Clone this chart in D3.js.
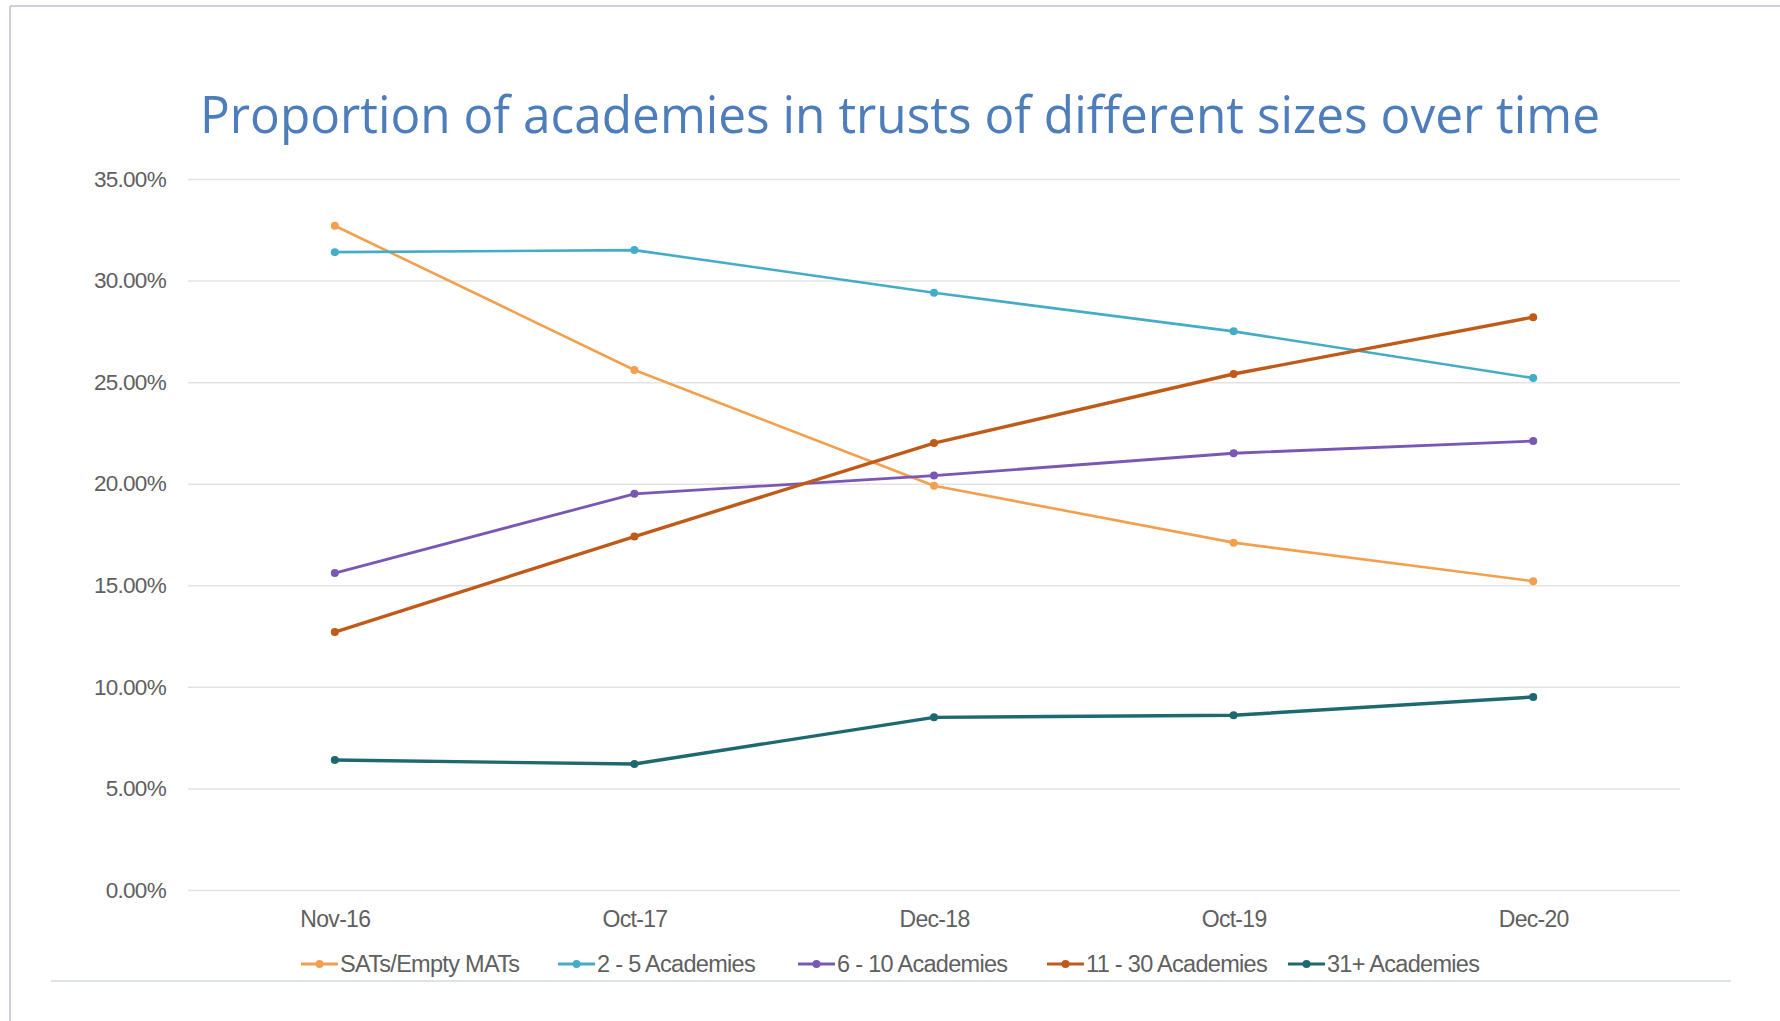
<!DOCTYPE html>
<html>
<head>
<meta charset="utf-8">
<script src="https://cdn.jsdelivr.net/npm/d3@7"></script>
<style>
  html, body { margin: 0; padding: 0; background: #ffffff; }
  svg { display: block; }
</style>
</head>
<body>
<svg id="chart" width="1780" height="1021"></svg>
<script>
// ---- data ----
const categories = ["Nov-16", "Oct-17", "Dec-18", "Oct-19", "Dec-20"];
const seriesNames = ["SATs/Empty MATs", "2 - 5 Academies", "6 - 10 Academies", "11 - 30 Academies", "31+ Academies"];
const satsValues    = [32.7, 25.6, 19.9, 17.1, 15.2];
const twoFiveValues = [31.4, 31.5, 29.4, 27.5, 25.2];
const sixTenValues  = [15.6, 19.5, 20.4, 21.5, 22.1];
const elevenThirtyValues = [12.7, 17.4, 22.0, 25.4, 28.2];
const thirtyOnePlusValues = [6.4, 6.2, 8.5, 8.6, 9.5];
const yTicks = [0, 5, 10, 15, 20, 25, 30, 35];
const titleText = "Proportion of academies in trusts of different sizes over time";

const seriesValues = [satsValues, twoFiveValues, sixTenValues, elevenThirtyValues, thirtyOnePlusValues];
const colors = ["#f2a04e", "#45acc8", "#7858b4", "#c05a18", "#1e6870"];
const widths = [2.6, 2.6, 2.8, 3.4, 3.4];

const svg = d3.select("#chart");

// frame lines
svg.append("line").attr("x1", 10).attr("x2", 1780).attr("y1", 6).attr("y2", 6)
  .attr("stroke", "#c9d2dc").attr("stroke-width", 2);
svg.append("line").attr("x1", 10).attr("x2", 10).attr("y1", 6).attr("y2", 1021)
  .attr("stroke", "#c9d2dc").attr("stroke-width", 2);
svg.append("line").attr("x1", 51).attr("x2", 1731).attr("y1", 981).attr("y2", 981)
  .attr("stroke", "#d4d8dc").attr("stroke-width", 1.5);

// title
svg.append("text")
  .attr("x", 900).attr("y", 133)
  .attr("text-anchor", "middle")
  .attr("font-family", "'Open Sans', 'Noto Sans', sans-serif")
  .attr("font-size", 52)
  .attr("fill", "#4d7dbb")
  .attr("textLength", 1400)
  .attr("lengthAdjust", "spacingAndGlyphs")
  .text(titleText);

// scales
const x = d3.scalePoint().domain(categories).range([185, 1683]).padding(0.5);
const y = d3.scaleLinear().domain([0, 35]).range([890, 179]);

const labelFont = "'Liberation Sans', Arial, sans-serif";

// gridlines
const gAxisY = svg.append("g").attr("transform", "translate(188,0)")
  .call(d3.axisLeft(y).tickValues(yTicks).tickSize(-1492).tickFormat(d => d3.format(".2f")(d) + "%").tickPadding(22));
gAxisY.select(".domain").remove();
gAxisY.selectAll(".tick line").attr("stroke", "#e3e3e3").attr("stroke-width", 1.5);
gAxisY.selectAll(".tick text")
  .attr("font-family", labelFont)
  .attr("font-size", 22.5)
  .attr("letter-spacing", -0.7)
  .attr("fill", "#606060");

// x axis labels
const gAxisX = svg.append("g").attr("transform", "translate(0,890)")
  .call(d3.axisBottom(x).tickSize(0).tickPadding(21));
gAxisX.select(".domain").remove();
gAxisX.selectAll(".tick text")
  .attr("font-family", labelFont)
  .attr("font-size", 23)
  .attr("letter-spacing", -0.7)
  .attr("fill", "#606060");

// lines
const line = d3.line().x((d, i) => x(categories[i])).y(d => y(d));
seriesValues.forEach((vals, si) => {
  svg.append("path")
    .datum(vals)
    .attr("d", line)
    .attr("fill", "none")
    .attr("stroke", colors[si])
    .attr("stroke-width", widths[si])
    .attr("stroke-linejoin", "round");
  svg.append("g").selectAll("circle")
    .data(vals)
    .join("circle")
    .attr("cx", (d, i) => x(categories[i]))
    .attr("cy", d => y(d))
    .attr("r", 4)
    .attr("fill", colors[si]);
});

// legend
const legendStarts = [301, 558, 798, 1047, 1288];
const legend = svg.append("g").attr("transform", "translate(0,964)");
seriesNames.forEach((name, si) => {
  const g = legend.append("g").attr("transform", `translate(${legendStarts[si]},0)`);
  g.append("line").attr("x1", 0).attr("x2", 37).attr("y1", 0).attr("y2", 0)
    .attr("stroke", colors[si]).attr("stroke-width", 3.2);
  g.append("circle").attr("cx", 18.5).attr("cy", 0).attr("r", 4).attr("fill", colors[si]);
  g.append("text").attr("x", 39).attr("y", 0).attr("dy", "0.36em")
    .attr("font-family", labelFont)
    .attr("font-size", 23.5)
    .attr("letter-spacing", -0.7)
    .attr("fill", "#606060")
    .text(name);
});
</script>
</body>
</html>
